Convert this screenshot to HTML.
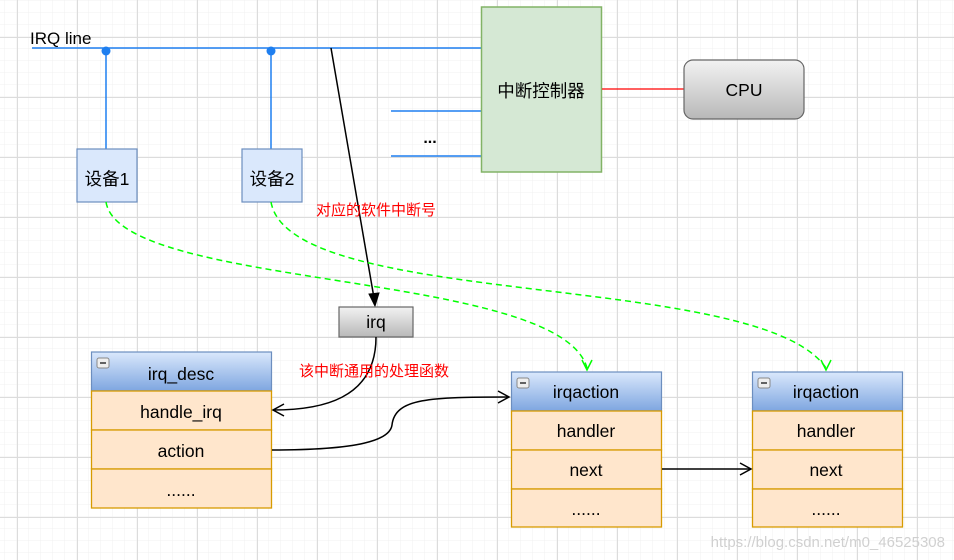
<!DOCTYPE html>
<html><head><meta charset="utf-8"><style>
body{margin:0;background:#fff}
svg{display:block}
text{font-family:"Liberation Sans","Noto Sans CJK SC",sans-serif}
</style></head><body>
<svg width="954" height="560" viewBox="0 0 954 560" xmlns="http://www.w3.org/2000/svg">
<defs>
<pattern id="gmin" width="12" height="12" patternUnits="userSpaceOnUse" x="5" y="1">
<path d="M12 0V12M0 12H12" stroke="#f0f0f0" stroke-width="1" fill="none"/></pattern>
<pattern id="gmaj" width="60" height="60" patternUnits="userSpaceOnUse" x="17" y="37">
<path d="M0.5 0V60M0 0.5H60" stroke="#dcdcdc" stroke-width="1" fill="none"/></pattern>
<linearGradient id="gray" x1="0" y1="0" x2="0" y2="1"><stop offset="0" stop-color="#f2f2f2"/><stop offset="1" stop-color="#b8b8b8"/></linearGradient>
<linearGradient id="blue" x1="0" y1="0" x2="0" y2="1"><stop offset="0" stop-color="#dae8fc"/><stop offset="1" stop-color="#7ea6e0"/></linearGradient>
</defs>
<rect width="954" height="560" fill="url(#gmin)"/>
<rect width="954" height="560" fill="url(#gmaj)"/>

<text x="30" y="44" font-size="17" fill="#000">IRQ line</text>
<line x1="32" y1="48" x2="481" y2="48" stroke="#1e7ff0" stroke-width="1.5"/>
<circle cx="106" cy="51" r="4.5" fill="#1e7ff0"/>
<circle cx="271" cy="51" r="4.5" fill="#1e7ff0"/>
<line x1="106" y1="51" x2="106" y2="149" stroke="#1e7ff0" stroke-width="1.5"/>
<line x1="271" y1="51" x2="271" y2="149" stroke="#1e7ff0" stroke-width="1.5"/>
<line x1="391" y1="111" x2="481" y2="111" stroke="#1e7ff0" stroke-width="1.5"/>
<line x1="391" y1="156" x2="481" y2="156" stroke="#1e7ff0" stroke-width="1.5"/>
<text x="430" y="143" font-size="16" text-anchor="middle" font-weight="bold">...</text>

<rect x="77" y="149" width="60" height="53" fill="#dae8fc" stroke="#6c8ebf" stroke-width="1.2"/>
<text x="107" y="185" font-size="17.5" text-anchor="middle">设备1</text>
<rect x="242" y="149" width="60" height="53" fill="#dae8fc" stroke="#6c8ebf" stroke-width="1.2"/>
<text x="272" y="185" font-size="17.5" text-anchor="middle">设备2</text>

<rect x="481.5" y="7" width="120" height="165" fill="#d5e8d4" stroke="#82b366" stroke-width="1.5"/>
<text x="541" y="97" font-size="17.5" text-anchor="middle">中断控制器</text>
<line x1="602" y1="89" x2="684" y2="89" stroke="#ff0000" stroke-width="1.2"/>
<rect x="684" y="60" width="120" height="59" rx="9" fill="url(#gray)" stroke="#666" stroke-width="1.2"/>
<text x="744" y="96" font-size="17.5" text-anchor="middle">CPU</text>

<line x1="331" y1="48" x2="374" y2="298" stroke="#000" stroke-width="1.5"/>
<path d="M369 294 L375 306 L379 293 Z" fill="#000" stroke="#000"/>
<text x="316" y="215" font-size="15" fill="#ff0000">对应的软件中断号</text>

<rect x="339" y="307" width="74" height="30" fill="url(#gray)" stroke="#666" stroke-width="1.2"/>
<text x="376" y="328" font-size="17.5" text-anchor="middle">irq</text>

<path d="M106 202 C120 290 560 270 587 368" fill="none" stroke="#00ff00" stroke-width="1.5" stroke-dasharray="6 4"/>
<path d="M582 360 L587 370 L592 360" fill="none" stroke="#00ff00" stroke-width="1.5"/>
<path d="M271 202 C290 310 760 270 826 368" fill="none" stroke="#00ff00" stroke-width="1.5" stroke-dasharray="6 4"/>
<path d="M821 360 L826 370 L831 360" fill="none" stroke="#00ff00" stroke-width="1.5"/>

<rect x="91.5" y="352" width="180" height="39" fill="url(#blue)" stroke="#6c8ebf" stroke-width="1.2"/>
<rect x="97" y="358" width="12" height="10" rx="2" fill="#eee" stroke="#888"/><line x1="100" y1="363" x2="106" y2="363" stroke="#333" stroke-width="1.5"/>
<text x="181" y="380" font-size="17.5" text-anchor="middle">irq_desc</text>
<g fill="#ffe6cc" stroke="#d79b00" stroke-width="1.3">
<rect x="91.5" y="391" width="180" height="39"/>
<rect x="91.5" y="430" width="180" height="39"/>
<rect x="91.5" y="469" width="180" height="39"/>
</g>
<text x="181" y="418" font-size="17.5" text-anchor="middle">handle_irq</text>
<text x="181" y="457" font-size="17.5" text-anchor="middle">action</text>
<text x="181" y="496" font-size="17.5" text-anchor="middle">......</text>

<rect x="511.5" y="372" width="150" height="39" fill="url(#blue)" stroke="#6c8ebf" stroke-width="1.2"/>
<rect x="517" y="378" width="12" height="10" rx="2" fill="#eee" stroke="#888"/><line x1="520" y1="383" x2="526" y2="383" stroke="#333" stroke-width="1.5"/>
<text x="586" y="398" font-size="17.5" text-anchor="middle">irqaction</text>
<g fill="#ffe6cc" stroke="#d79b00" stroke-width="1.3">
<rect x="511.5" y="411" width="150" height="39"/>
<rect x="511.5" y="450" width="150" height="39"/>
<rect x="511.5" y="489" width="150" height="38"/>
</g>
<text x="586" y="437" font-size="17.5" text-anchor="middle">handler</text>
<text x="586" y="476" font-size="17.5" text-anchor="middle">next</text>
<text x="586" y="515" font-size="17.5" text-anchor="middle">......</text>

<rect x="752.5" y="372" width="150" height="39" fill="url(#blue)" stroke="#6c8ebf" stroke-width="1.2"/>
<rect x="758" y="378" width="12" height="10" rx="2" fill="#eee" stroke="#888"/><line x1="761" y1="383" x2="767" y2="383" stroke="#333" stroke-width="1.5"/>
<text x="826" y="398" font-size="17.5" text-anchor="middle">irqaction</text>
<g fill="#ffe6cc" stroke="#d79b00" stroke-width="1.3">
<rect x="752.5" y="411" width="150" height="39"/>
<rect x="752.5" y="450" width="150" height="39"/>
<rect x="752.5" y="489" width="150" height="38"/>
</g>
<text x="826" y="437" font-size="17.5" text-anchor="middle">handler</text>
<text x="826" y="476" font-size="17.5" text-anchor="middle">next</text>
<text x="826" y="515" font-size="17.5" text-anchor="middle">......</text>

<path d="M376 337 C376 400 320 410 273 410" fill="none" stroke="#000" stroke-width="1.5"/>
<path d="M284 404 L273 410 L284 416" fill="none" stroke="#000" stroke-width="1.5"/>
<text x="299" y="376" font-size="15" fill="#ff0000">该中断通用的处理函数</text>
<path d="M272 450 C360 450 390 440 392 425 C395 398 430 397 509 397" fill="none" stroke="#000" stroke-width="1.5"/>
<path d="M498 391 L509 397 L498 403" fill="none" stroke="#000" stroke-width="1.5"/>
<line x1="662" y1="469" x2="750" y2="469" stroke="#000" stroke-width="1.5"/>
<path d="M740 463 L751 469 L740 475" fill="none" stroke="#000" stroke-width="1.5"/>

<text x="945" y="547" font-size="15" fill="#ccc" text-anchor="end" opacity="0.9">https://blog.csdn.net/m0_46525308</text>
</svg>
</body></html>
